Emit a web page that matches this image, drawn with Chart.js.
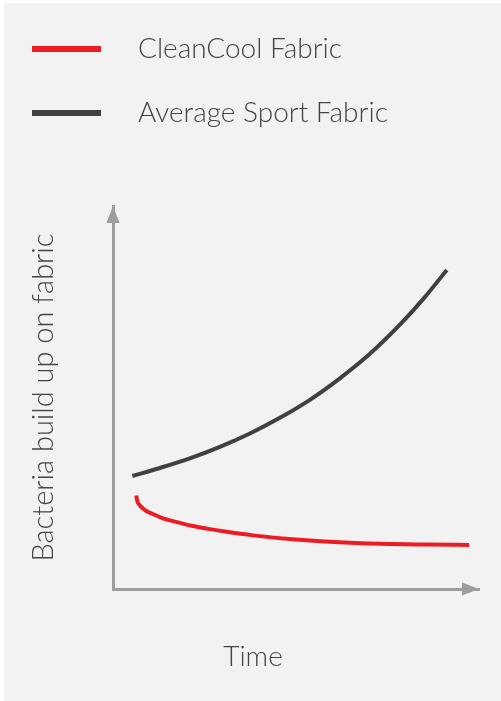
<!DOCTYPE html>
<html>
<head>
<meta charset="utf-8">
<script src="https://cdn.jsdelivr.net/npm/chart.js@4"></script>
<style>
  html, body { margin:0; padding:0; background:#ffffff; width:501px; height:701px; overflow:hidden; }
  #panel { position:absolute; left:4px; top:3px; right:0; bottom:0; background:#f2f2f2; }
  #wrap { position:absolute; left:0; top:0; width:501px; height:701px; }
  .lg-line { position:absolute; left:32px; width:69px; height:6px; }
  .txt { position:absolute; font-family: Lato, "Noto Sans", sans-serif; font-weight:300; color:#444444; font-size:28px; line-height:28px; white-space:nowrap; }
</style>
</head>
<body>
<div id="panel"></div>
<div id="wrap"><canvas id="c" width="501" height="701"></canvas></div>
<div class="lg-line" style="top:46px; background:#ed1c24;"></div>
<div class="txt" style="left:138px; top:33px;">CleanCool Fabric</div>
<div class="lg-line" style="top:110px; background:#404040;"></div>
<div class="txt" style="left:138px; top:97px;">Average Sport Fabric</div>
<div class="txt" style="left:0; width:506px; text-align:center; top:641px;">Time</div>
<script>
// Series data (time in arbitrary units 0-100, bacteria level 0-100)
const seriesNames = ["CleanCool Fabric", "Average Sport Fabric"];
const cleanTime   = [6.37, 6.56, 7.38, 8.74, 10.57, 13.31, 16.94, 21.5, 26.0, 30.6, 38.3, 49.9, 66.3, 85.4, 97.3];
const cleanValues = [24.4, 23.2, 21.8, 20.6, 19.7, 18.6, 17.6, 16.5, 15.7, 15.0, 14.0, 12.9, 12.0, 11.6, 11.5];
const sportTime   = [5.3, 12.8, 21.0, 29.2, 37.4, 45.6, 53.8, 62.0, 70.2, 78.4, 85.2, 91.2];
const sportValues = [29.5, 31.6, 34.1, 37.1, 40.6, 44.7, 49.4, 55.0, 61.4, 69.0, 76.2, 83.3];
const axisTitleY = "Bacteria build up on fabric";

const toPts = (xs, ys) => xs.map((x, i) => ({x: x, y: ys[i]}));

const arrowPlugin = {
  id: 'arrows',
  afterDraw(chart) {
    const ctx = chart.ctx;
    const xs = chart.scales.x, ys = chart.scales.y;
    const x0 = xs.getPixelForValue(0);
    const yTop = ys.getPixelForValue(100);
    const y0 = ys.getPixelForValue(0);
    const xRight = xs.getPixelForValue(100);
    ctx.save();
    ctx.fillStyle = '#9d9d9d';
    ctx.beginPath();
    ctx.moveTo(x0, yTop);
    ctx.lineTo(x0 - 6.5, yTop + 17);
    ctx.lineTo(x0 + 6.5, yTop + 17);
    ctx.closePath();
    ctx.fill();
    ctx.beginPath();
    ctx.moveTo(xRight, y0);
    ctx.lineTo(xRight - 17, y0 - 6.5);
    ctx.lineTo(xRight - 17, y0 + 6.5);
    ctx.closePath();
    ctx.fill();
    ctx.restore();
  }
};

new Chart(document.getElementById('c'), {
  type: 'line',
  data: {
    datasets: [
      { label: seriesNames[0], data: toPts(cleanTime, cleanValues), borderColor:'#ed1c24', borderWidth:4,
        pointRadius:0, cubicInterpolationMode:'monotone', borderCapStyle:'butt', fill:false },
      { label: seriesNames[1], data: toPts(sportTime, sportValues), borderColor:'#404040', borderWidth:4,
        pointRadius:0, cubicInterpolationMode:'monotone', borderCapStyle:'butt', fill:false }
    ]
  },
  options: {
    responsive: false,
    animation: false,
    devicePixelRatio: 1,
    layout: { padding: { left: 0, right: 22, top: 206, bottom: 112 } },
    plugins: { legend: { display:false }, tooltip: { enabled:false } },
    scales: {
      x: { type:'linear', min:0, max:100, display:true,
           ticks:{ display:false }, grid:{ display:false, drawTicks:false },
           border:{ display:true, color:'#9d9d9d', width:3 } },
      y: { type:'linear', min:0, max:100, display:true,
           ticks:{ display:false }, grid:{ display:false, drawTicks:false },
           border:{ display:true, color:'#9d9d9d', width:3 },
           title:{ display:true, text: axisTitleY, color:'#444444',
                   font:{ family:'Lato, "Noto Sans", sans-serif', size:29, weight:300 },
                   padding:{ top:26.6, bottom:51.6 } } }
    }
  },
  plugins: [arrowPlugin]
});
</script>
</body>
</html>
